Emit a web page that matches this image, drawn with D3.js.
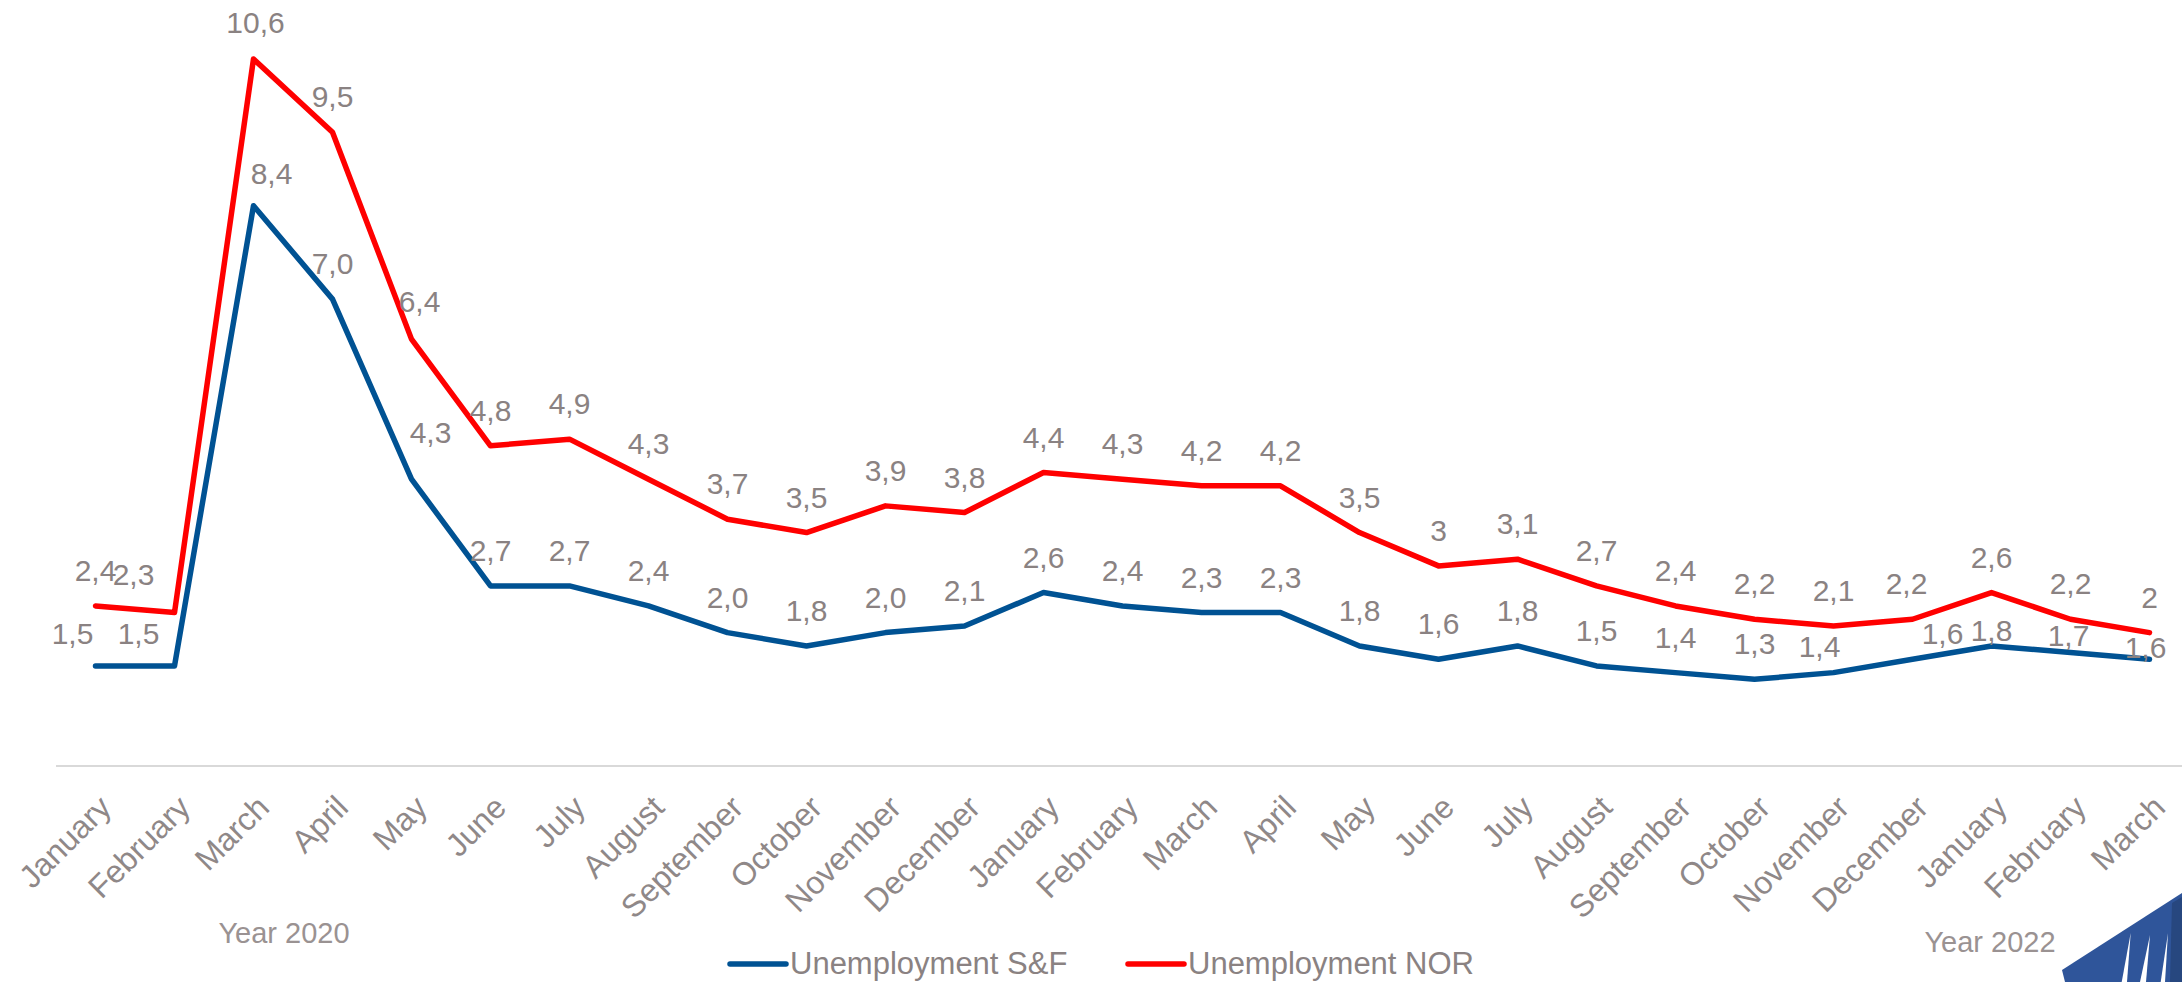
<!DOCTYPE html>
<html>
<head>
<meta charset="utf-8">
<script src="https://cdn.jsdelivr.net/npm/d3@7"></script>
<style>
  html, body { margin: 0; padding: 0; background: #ffffff; }
  svg { display: block; }
</style>
</head>
<body>
<svg id="chart" width="2182" height="982"></svg>
<script>
// Monthly unemployment rate (%), January 2020 – March 2022
const months = [
  "January", "February", "March", "April", "May", "June", "July", "August",
  "September", "October", "November", "December",
  "January", "February", "March", "April", "May", "June", "July", "August",
  "September", "October", "November", "December",
  "January", "February", "March"
];
const sfValues = [
  1.5, 1.5, 8.4, 7.0, 4.3, 2.7, 2.7, 2.4, 2.0, 1.8, 2.0, 2.1,
  2.6, 2.4, 2.3, 2.3, 1.8, 1.6, 1.8, 1.5, 1.4, 1.3, 1.4, 1.6,
  1.8, 1.7, 1.6
];
const norValues = [
  2.4, 2.3, 10.6, 9.5, 6.4, 4.8, 4.9, 4.3, 3.7, 3.5, 3.9, 3.8,
  4.4, 4.3, 4.2, 4.2, 3.5, 3, 3.1, 2.7, 2.4, 2.2, 2.1, 2.2,
  2.6, 2.2, 2
];
const seriesNames = ["Unemployment S&F", "Unemployment NOR"];
const yearLabels = ["Year 2020", "Year 2022"];

// Per-point nudges [dx, dy] for value labels that were moved off the default spot
const sfLabelShift = [
  [-23, 3], [-36, 3], [18, 3], [0, 0], [19, -11], [0, 0], [0, 0], [0, 0], [0, 0], [0, 0],
  [0, 0], [0, 0], [0, 0], [0, 0], [0, 0], [0, 0], [0, 0], [0, 0], [0, 0], [0, 0],
  [0, 0], [0, 0], [-14, 9], [30, 10], [0, 20], [-2, 18], [-4, 24]
];
const norLabelShift = [
  [0, 0], [-41, -3], [2, -1], [0, 0], [8, -2], [0, 0], [0, 0], [0, 0], [0, 0], [0, 0],
  [0, 0], [0, 0], [0, 0], [0, 0], [0, 0], [0, 0], [0, 0], [0, 0], [0, 0], [0, 0],
  [0, 0], [0, 0], [0, 0], [-6, 0], [0, 0], [0, 0], [0, 0]
];

const svg = d3.select("#chart");
const FONT = "'Liberation Sans', Arial, Helvetica, sans-serif";
const TEXT_GREY = "#8a8282";
const BLUE = "#005293";
const RED = "#ff0000";

const x = d3.scalePoint()
  .domain(d3.range(months.length))
  .range([56, 2189])
  .padding(0.5);
const step = x.step();

const y = d3.scaleLinear()
  .domain([0, 11])
  .range([766, 766 - 11 * 66.7]);

// category axis baseline
svg.append("line")
  .attr("x1", x(0) - step / 2)
  .attr("x2", x(months.length - 1) + step / 2)
  .attr("y1", y(0))
  .attr("y2", y(0))
  .attr("stroke", "#d9d9d9")
  .attr("stroke-width", 2);

// rotated month labels
const xAxis = d3.axisBottom(x).tickSize(0).tickFormat(i => months[i]);
const gx = svg.append("g")
  .attr("transform", `translate(0,${y(0)})`)
  .call(xAxis);
gx.select(".domain").remove();
gx.selectAll(".tick text")
  .attr("font-family", FONT)
  .attr("font-size", 32)
  .attr("fill", "#8f8888")
  .attr("text-anchor", "end")
  .attr("dy", 0)
  .attr("y", 0)
  .attr("transform", "translate(17,43.5) rotate(-45)");

// series lines
const line = d3.line()
  .x((d, i) => x(i))
  .y(d => y(d));

const series = [
  { name: seriesNames[0], values: sfValues, color: BLUE, shift: sfLabelShift,
    fmt: v => d3.format(".1f")(v).replace(".", ",") },
  { name: seriesNames[1], values: norValues, color: RED, shift: norLabelShift,
    fmt: v => String(v).replace(".", ",") }
];

series.forEach(s => {
  svg.append("path")
    .datum(s.values)
    .attr("d", line)
    .attr("fill", "none")
    .attr("stroke", s.color)
    .attr("stroke-width", 5.5)
    .attr("stroke-linejoin", "round")
    .attr("stroke-linecap", "round");
});

// value labels above each point
series.forEach(s => {
  svg.append("g")
    .selectAll("text")
    .data(s.values)
    .join("text")
    .attr("x", (d, i) => x(i) + s.shift[i][0])
    .attr("y", (d, i) => y(d) - 25 + s.shift[i][1])
    .attr("text-anchor", "middle")
    .attr("font-family", FONT)
    .attr("font-size", 30)
    .attr("fill", TEXT_GREY)
    .text(d => s.fmt(d));
});

// year captions
svg.append("text")
  .attr("x", 284).attr("y", 943)
  .attr("text-anchor", "middle")
  .attr("font-family", FONT).attr("font-size", 29)
  .attr("fill", "#9a9292")
  .text(yearLabels[0]);
svg.append("text")
  .attr("x", 1990).attr("y", 952)
  .attr("text-anchor", "middle")
  .attr("font-family", FONT).attr("font-size", 29)
  .attr("fill", "#9a9292")
  .text(yearLabels[1]);

// legend
const legend = svg.append("g");
const legendItems = [
  { x: 730, color: BLUE, name: seriesNames[0] },
  { x: 1128, color: RED, name: seriesNames[1] }
];
legendItems.forEach(it => {
  legend.append("line")
    .attr("x1", it.x).attr("x2", it.x + 56)
    .attr("y1", 964).attr("y2", 964)
    .attr("stroke", it.color)
    .attr("stroke-width", 5.5)
    .attr("stroke-linecap", "round");
  legend.append("text")
    .attr("x", it.x + 60).attr("y", 974)
    .attr("font-family", FONT).attr("font-size", 31)
    .attr("fill", TEXT_GREY)
    .text(it.name);
});

// corner logo mark
const logo = svg.append("g");
logo.append("path")
  .attr("d", "M2062,970 L2182,893 L2182,982 L2065,982 Z")
  .attr("fill", "#2f559a");
logo.append("path")
  .attr("d", "M2172,903 L2182,897 L2182,982 L2170,982 Z")
  .attr("fill", "#27477f");
[[2121.7, 2127, 2130.7, 933], [2140, 2146, 2150, 935], [2160.7, 2165, 2168, 933]].forEach(t => {
  logo.append("path")
    .attr("d", `M${t[0]},982 L${t[2]},${t[3]} L${t[1]},982 Z`)
    .attr("fill", "#ffffff");
});
</script>
</body>
</html>
